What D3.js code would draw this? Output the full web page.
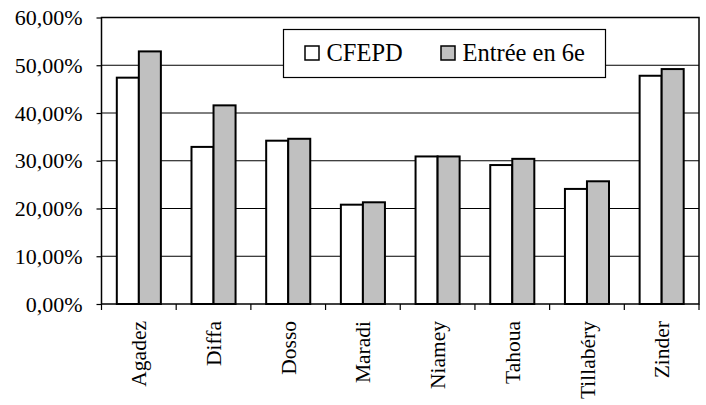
<!DOCTYPE html>
<html>
<head>
<meta charset="utf-8">
<script src="https://cdn.jsdelivr.net/npm/d3@7"></script>
<style>
  html, body { margin: 0; padding: 0; background: #fff; }
  svg { display: block; }
  text { font-family: "Liberation Serif", "Times New Roman", serif; fill: #000; }
</style>
</head>
<body>
<svg id="chart" width="706" height="405"></svg>
<script>
// Taux par région (en %)
const regions = ["Agadez", "Diffa", "Dosso", "Maradi", "Niamey", "Tahoua", "Tillabéry", "Zinder"];
const seriesNames = ["CFEPD", "Entrée en 6e"];
const cfepd = [47.4, 32.9, 34.2, 20.8, 30.9, 29.1, 24.1, 47.8];
const entree6e = [52.9, 41.6, 34.6, 21.3, 30.9, 30.4, 25.7, 49.2];
const yTicks = [0, 10, 20, 30, 40, 50, 60];
const seriesColors = ["#ffffff", "#c0c0c0"];

const rows = regions.map((r, i) => ({ region: r, values: [cfepd[i], entree6e[i]] }));

const svg = d3.select("#chart");
const plot = { left: 101.5, right: 699, top: 17.5, bottom: 304 };

const x = d3.scaleBand().domain(regions).range([plot.left, plot.right])
  .paddingInner(0.41).paddingOuter(0.205);
const xInner = d3.scaleBand().domain(seriesNames).range([0, x.bandwidth()]);
const y = d3.scaleLinear().domain([0, 60]).range([plot.bottom, plot.top]);

const fmt = d => d.toFixed(2).replace(".", ",") + "%";

// Gridlines
svg.append("g")
  .selectAll("line").data(yTicks.slice(1, -1)).join("line")
  .attr("x1", plot.left).attr("x2", plot.right)
  .attr("y1", d => y(d)).attr("y2", d => y(d))
  .attr("stroke", "#000").attr("stroke-width", 1);

// Y axis
const yAxis = svg.append("g")
  .attr("transform", `translate(${plot.left},0)`)
  .call(d3.axisLeft(y).tickValues(yTicks).tickFormat(fmt).tickSize(5).tickPadding(14));
yAxis.select(".domain").remove();
yAxis.selectAll("line").attr("stroke", "#000").attr("stroke-width", 1.2);
yAxis.selectAll("text").style("font-size", "22px")
  .style("font-family", "'Liberation Serif', 'Times New Roman', serif");

// Bars
const groups = svg.append("g").selectAll("g").data(rows).join("g")
  .attr("transform", d => `translate(${x(d.region)},0)`);
groups.selectAll("rect")
  .data(d => d.values.map((v, i) => ({ key: seriesNames[i], value: v, idx: i })))
  .join("rect")
  .attr("x", d => xInner(d.key))
  .attr("width", xInner.bandwidth())
  .attr("y", d => y(d.value))
  .attr("height", d => y(0) - y(d.value))
  .attr("fill", d => seriesColors[d.idx])
  .attr("stroke", "#000").attr("stroke-width", 2);

// X axis: ticks at category boundaries
const step = x.step();
const boundaries = d3.range(regions.length + 1).map(i => plot.left + i * step);
svg.append("g").selectAll("line").data(boundaries).join("line")
  .attr("x1", d => d).attr("x2", d => d)
  .attr("y1", plot.bottom).attr("y2", plot.bottom + 6)
  .attr("stroke", "#000").attr("stroke-width", 1.2);

svg.append("g").selectAll("text").data(regions).join("text")
  .attr("transform", d => `translate(${x(d) + x.bandwidth() / 2},321) rotate(-90)`)
  .attr("text-anchor", "end")
  .attr("dy", "0.35em")
  .style("font-size", "21.5px")
  .text(d => d);

// Plot frame
svg.append("rect")
  .attr("x", plot.left).attr("y", plot.top)
  .attr("width", plot.right - plot.left).attr("height", plot.bottom - plot.top)
  .attr("fill", "none").attr("stroke", "#000").attr("stroke-width", 1.5);

// Legend
const legend = svg.append("g");
legend.append("rect")
  .attr("x", 283.5).attr("y", 29.5).attr("width", 322).attr("height", 48)
  .attr("fill", "#fff").attr("stroke", "#000").attr("stroke-width", 1.2);
const legendItems = [
  { name: seriesNames[0], color: seriesColors[0], sx: 305, tx: 326.5 },
  { name: seriesNames[1], color: seriesColors[1], sx: 441, tx: 462.5 }
];
legendItems.forEach(it => {
  legend.append("rect")
    .attr("x", it.sx).attr("y", 46).attr("width", 14).attr("height", 14)
    .attr("fill", it.color).attr("stroke", "#000").attr("stroke-width", 1.5);
  legend.append("text")
    .attr("x", it.tx).attr("y", 60.7)
    .style("font-size", "24.5px")
    .text(it.name);
});
</script>
</body>
</html>
